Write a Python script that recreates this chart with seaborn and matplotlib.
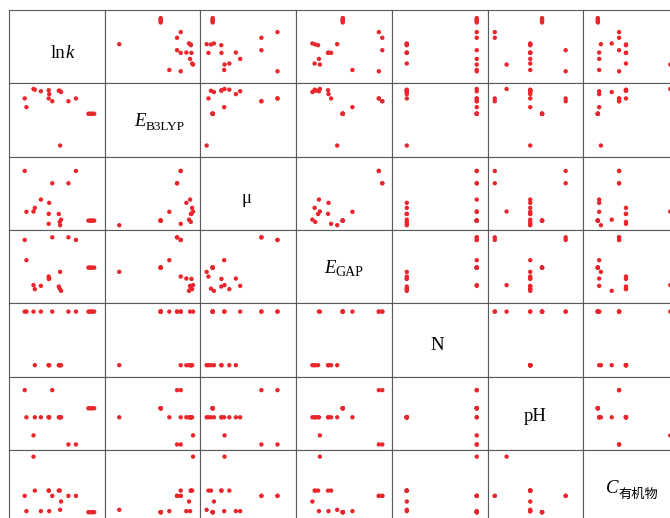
import matplotlib
matplotlib.use("Agg")
import matplotlib.pyplot as plt
import matplotlib.transforms as mtransforms
import pandas as pd
import seaborn as sns

# Descriptor set for the degradation data (continuous descriptors on a 0-1 scale)
variables = ["lnk", "E_B3LYP", "mu", "E_GAP", "N", "pH", "C_org"]

lnk = [0.164, 0.182, 0.256, 0.270, 0.333, 0.415, 0.420, 0.415, 0.452, 0.530,
       0.544, 0.534, 0.621, 0.699, 0.520, 0.830, 0.845, 0.860, 0.875, 0.890]
e_b3lyp = [0.794, 0.675, 0.923, 0.913, 0.892, 0.906, 0.853, 0.794, 0.756, 0.899,
           0.881, 0.152, 0.756, 0.794, 0.900, 0.585, 0.585, 0.585, 0.585, 0.585]
mu = [0.805, 0.248, 0.252, 0.302, 0.415, 0.220, 0.370, 0.084, 0.637, 0.110,
      0.141, 0.065, 0.637, 0.805, 0.218, 0.128, 0.128, 0.128, 0.128, 0.128]
e_gap = [0.864, 0.588, 0.248, 0.193, 0.238, 0.333, 0.338, 0.365, 0.900, 0.200,
         0.170, 0.429, 0.900, 0.864, 0.229, 0.487, 0.487, 0.487, 0.487, 0.487]
n_flag = [1, 1, 1, 0, 1, 0, 0, 0, 1, 0,
          0, 0, 1, 1, 0, 1, 1, 1, 1, 1]
ph = [9, 6, 4, 6, 6, 6, 6, 6, 9, 6,
      6, 6, 3, 3, 6, 7, 7, 7, 7, 7]
c_org = [0.374, 0.166, 0.909, 0.446, 0.166, 0.446, 0.166, 0.446, 0.374, 0.446,
         0.297, 0.184, 0.374, 0.374, 0.446, 0.152, 0.152, 0.152, 0.152, 0.152]

df = pd.DataFrame({
    "lnk": lnk, "E_B3LYP": e_b3lyp, "mu": mu, "E_GAP": e_gap,
    "N": n_flag, "pH": ph, "C_org": c_org,
})

axis_limits = {
    "lnk": (0, 1), "E_B3LYP": (0, 1), "mu": (0, 1), "E_GAP": (0, 1),
    "N": (-0.2134, 1.1546), "pH": (2.39, 10.49), "C_org": (0, 1),
}

sns.set_style("white")
g = sns.PairGrid(df, vars=variables, height=1.0, aspect=1.3, despine=False)
g.map_offdiag(sns.scatterplot, color="#e8262b", s=10, linewidth=0, edgecolor="none")

fig = g.figure
fig.set_dpi(100)
fig.set_size_inches(6.70, 5.18)
fig.subplots_adjust(left=9 / 670, right=679 / 670, top=1 - 10 / 518,
                    bottom=1 - 523.3 / 518, wspace=0, hspace=0)

for i, yv in enumerate(variables):
    for j, xv in enumerate(variables):
        ax = g.axes[i, j]
        ax.set_xlim(axis_limits[xv])
        ax.set_ylim(axis_limits[yv])
        ax.set_xticks([])
        ax.set_yticks([])
        ax.set_xlabel("")
        ax.set_ylabel("")
        for sp in ax.spines.values():
            sp.set_color("#5a5a5a")
            sp.set_linewidth(0.8)

# Diagonal variable names, built from main text plus a lowered subscript
serif = ["Liberation Serif", "DejaVu Serif"]
cjk = ["Noto Sans CJK SC", "DejaVu Sans"]
diag_labels = [
    ([("ln", 13.5, "normal", serif, 0), ("k", 13.5, "italic", serif, 0)], 0.554, 0.66),
    ([("E", 13.5, "italic", serif, 0), ("B3LYP", 9.5, "normal", serif, 4)], 0.575, 0.58),
    ([("μ", 13.5, "normal", serif, 0)], 0.486, 0.63),
    ([("E", 13.5, "italic", serif, 0), ("GAP", 10, "normal", serif, 3.5)], 0.494, 0.58),
    ([("N", 13.5, "normal", serif, 0)], 0.478, 0.63),
    ([("pH", 13.5, "normal", serif, 0)], 0.50, 0.61),
    ([("C", 13.5, "italic", serif, 0), ("有机物", 9.5, "normal", cjk, 5)], 0.507, 0.59),
]

fig.canvas.draw()
renderer = fig.canvas.get_renderer()
ident = mtransforms.IdentityTransform()

for k, (segments, cx_frac, base_frac) in enumerate(diag_labels):
    ax = g.axes[k, k]
    bbox = ax.get_window_extent(renderer)
    parts = []
    total = 0.0
    for text, size, style, family, drop in segments:
        t = fig.text(0, 0, text, transform=ident, fontsize=size, fontstyle=style,
                     family=family, ha="left", va="baseline", color="black")
        w = t.get_window_extent(renderer).width
        parts.append((t, drop, w))
        total += w
    x = bbox.x0 + cx_frac * bbox.width - total / 2
    yb = bbox.y1 - base_frac * bbox.height
    for t, drop, w in parts:
        t.set_position((x, yb - drop))
        x += w

fig.savefig("out.png", dpi=100)
